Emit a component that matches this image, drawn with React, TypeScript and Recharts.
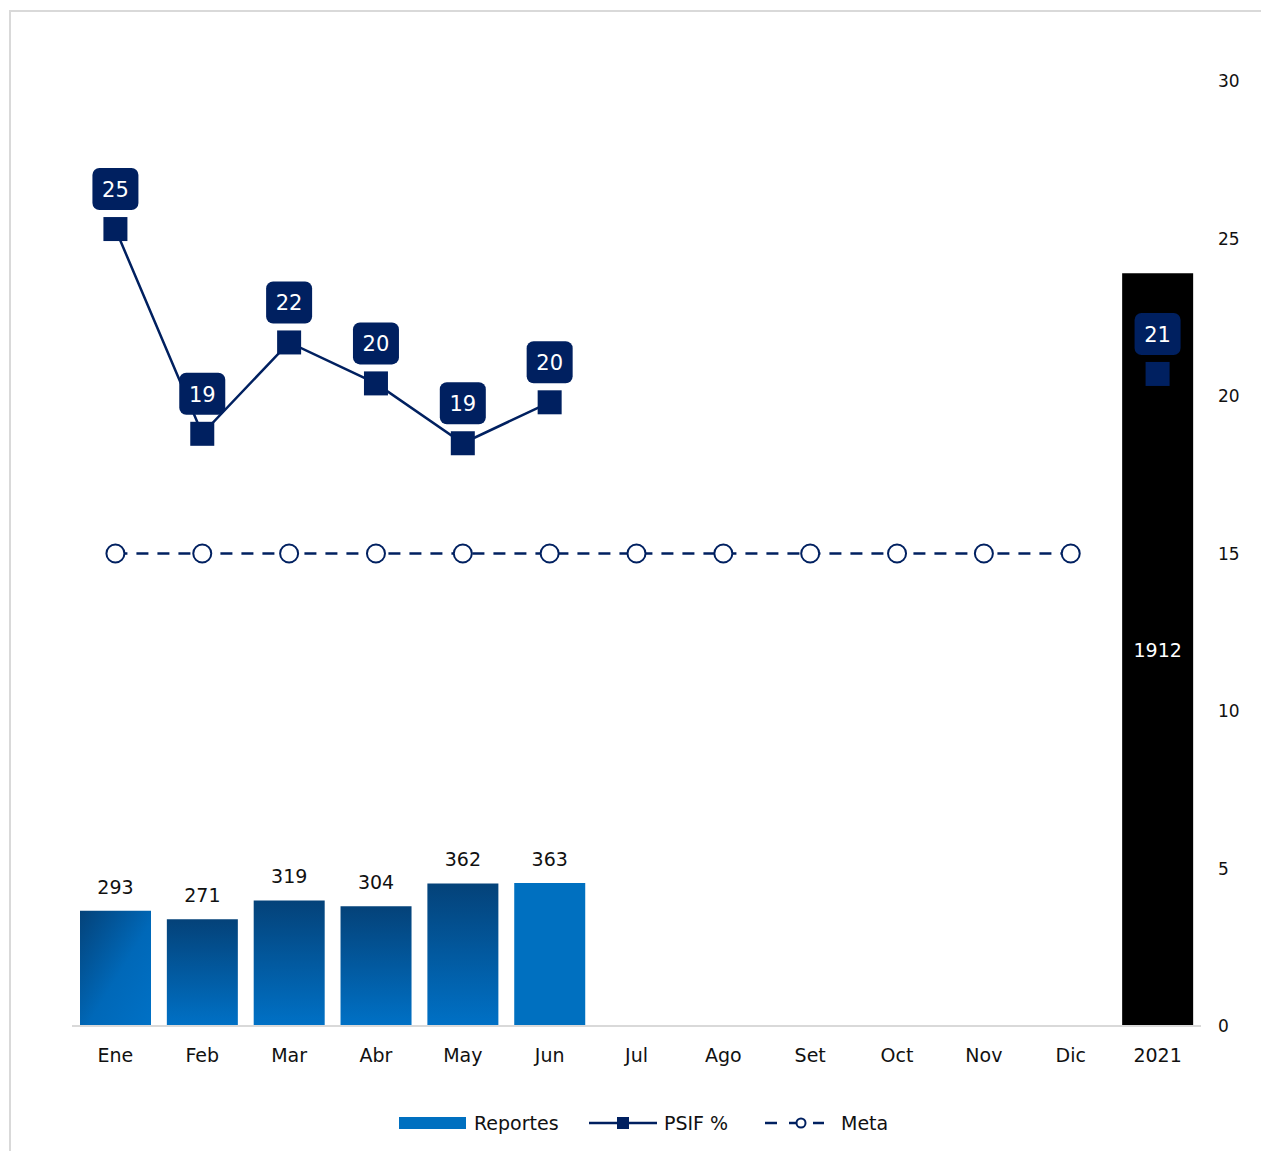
import React from 'react';
import {
  ComposedChart,
  Bar,
  Line,
  XAxis,
  YAxis,
  Cell,
  LabelList,
  Legend
} from 'recharts';

// Chart values
const months = ['Ene', 'Feb', 'Mar', 'Abr', 'May', 'Jun', 'Jul', 'Ago', 'Set', 'Oct', 'Nov', 'Dic', '2021'];
const reportes = [293, 271, 319, 304, 362, 363, null, null, null, null, null, null, 1912];
const psif = [25.3, 18.8, 21.7, 20.4, 18.5, 19.8, null, null, null, null, null, null, 20.7];
const meta = [15, 15, 15, 15, 15, 15, 15, 15, 15, 15, 15, 15, null];
const rightTicks = [0, 5, 10, 15, 20, 25, 30];

const NAVY = '#002060';
const FONT = '"DejaVu Sans", Verdana, sans-serif';
const yearTotal = reportes[reportes.length - 1];

const data = months.map((m, i) => ({
  month: m,
  reportes: reportes[i],
  psif: psif[i],
  meta: meta[i]
}));

const barFills = [
  'url(#gradDiag)',
  'url(#gradVert)',
  'url(#gradVert)',
  'url(#gradVert)',
  'url(#gradVert)',
  '#0070C0',
  '#0070C0', '#0070C0', '#0070C0', '#0070C0', '#0070C0', '#0070C0',
  '#000000'
];

// Square marker for PSIF %
const SquareDot = (props: any) => {
  const { cx, cy, value } = props;
  if (value === null || value === undefined || cx == null || cy == null) return null;
  return <rect x={cx - 12} y={cy - 12} width={24} height={24} fill={NAVY} />;
};

// Hollow circle marker for Meta
const CircleDot = (props: any) => {
  const { cx, cy, value } = props;
  if (value === null || value === undefined || cx == null || cy == null) return null;
  return <circle cx={cx} cy={cy} r={9} fill="#ffffff" stroke={NAVY} strokeWidth={2} />;
};

// Navy rounded box with the rounded value above each PSIF point
const PsifLabel = (props: any) => {
  const { x, y, value } = props;
  if (value === null || value === undefined) return null;
  return (
    <g>
      <rect x={x - 23} y={y - 61} width={46} height={42} rx={7} fill={NAVY} />
      <text
        x={x}
        y={y - 39}
        fill="#ffffff"
        fontSize={21}
        fontFamily={FONT}
        textAnchor="middle"
        dominantBaseline="central"
      >
        {Math.round(value)}
      </text>
    </g>
  );
};

// Values above the monthly bars, inside the yearly bar
const BarLabel = (props: any) => {
  const { x, y, width, height, value } = props;
  if (value === null || value === undefined) return null;
  if (value === yearTotal) {
    return (
      <text
        x={x + width / 2}
        y={y + height / 2}
        fill="#ffffff"
        fontSize={19}
        fontFamily={FONT}
        textAnchor="middle"
        dominantBaseline="central"
      >
        {value}
      </text>
    );
  }
  return (
    <text
      x={x + width / 2}
      y={y - 24}
      fill="#111111"
      fontSize={19}
      fontFamily={FONT}
      textAnchor="middle"
      dominantBaseline="central"
    >
      {value}
    </text>
  );
};

const CustomLegend = () => (
  <svg width={1261} height={40} style={{ display: 'block' }}>
    <g fontFamily={FONT} fontSize={19} fill="#111111">
      <rect x={399} y={14} width={67} height={12} fill="#0070C0" />
      <text x={474} y={20} dominantBaseline="central">Reportes</text>

      <line x1={589} y1={20} x2={657} y2={20} stroke={NAVY} strokeWidth={2.5} />
      <rect x={617} y={14} width={12} height={12} fill={NAVY} />
      <text x={664} y={20} dominantBaseline="central">PSIF %</text>

      <line x1={765} y1={20} x2={777} y2={20} stroke={NAVY} strokeWidth={2.5} />
      <line x1={789} y1={20} x2={796} y2={20} stroke={NAVY} strokeWidth={2.5} />
      <circle cx={801} cy={20} r={4.5} fill="#ffffff" stroke={NAVY} strokeWidth={2} />
      <line x1={806} y1={20} x2={824} y2={20} stroke={NAVY} strokeWidth={2.5} strokeDasharray="0 7 12" />
      <text x={841} y={20} dominantBaseline="central">Meta</text>
    </g>
  </svg>
);

const App: React.FC = () => {
  return (
    <div
      style={{
        position: 'absolute',
        left: 0,
        top: 0,
        width: 1261,
        height: 1151,
        overflow: 'hidden',
        background: '#ffffff',
        fontFamily: FONT
      }}
    >
      {/* light frame around the chart area */}
      <div
        style={{
          position: 'absolute',
          left: 9,
          top: 10,
          width: 1300,
          height: 1200,
          borderLeft: '2px solid #d9d9d9',
          borderTop: '2px solid #d9d9d9'
        }}
      />
      <div style={{ position: 'absolute', left: 0, top: 0 }}>
        <ComposedChart
          width={1261}
          height={1151}
          data={data}
          margin={{ top: 81, right: 0, left: 72, bottom: 35 }}
        >
          <defs>
            <linearGradient id="gradVert" x1="0" y1="0" x2="0" y2="1">
              <stop offset="0%" stopColor="#044279" />
              <stop offset="100%" stopColor="#0071C6" />
            </linearGradient>
            <linearGradient id="gradDiag" x1="0" y1="0" x2="1" y2="1">
              <stop offset="0%" stopColor="#044279" />
              <stop offset="55%" stopColor="#0068B8" />
              <stop offset="100%" stopColor="#0071C6" />
            </linearGradient>
          </defs>

          <XAxis
            dataKey="month"
            axisLine={{ stroke: '#d9d9d9', strokeWidth: 2 }}
            tickLine={false}
            tickSize={6}
            tickMargin={17}
            tick={{ fontSize: 19, fill: '#111111', fontFamily: FONT }}
            interval={0}
            height={50}
          />

          {/* hidden axis for the bar counts */}
          <YAxis yAxisId="left" domain={[0, 2400]} hide />

          {/* visible percentage axis on the right */}
          <YAxis
            yAxisId="right"
            orientation="right"
            domain={[0, 30]}
            ticks={rightTicks}
            axisLine={false}
            tickLine={false}
            tickSize={6}
            tickMargin={11}
            width={60}
            tick={{ fontSize: 17, fill: '#111111', fontFamily: FONT }}
          />

          <Legend
            content={<CustomLegend />}
            wrapperStyle={{ position: 'absolute', top: 1103, left: 0, width: 1261, height: 40 }}
          />

          <Bar
            yAxisId="left"
            dataKey="reportes"
            name="Reportes"
            barSize={71}
            isAnimationActive={false}
          >
            {data.map((d, i) => (
              <Cell key={d.month} fill={barFills[i]} />
            ))}
            <LabelList dataKey="reportes" content={<BarLabel />} />
          </Bar>

          <Line
            yAxisId="right"
            dataKey="meta"
            name="Meta"
            stroke={NAVY}
            strokeWidth={2.5}
            strokeDasharray="12 9"
            dot={<CircleDot />}
            activeDot={false}
            isAnimationActive={false}
          />

          <Line
            yAxisId="right"
            dataKey="psif"
            name="PSIF %"
            stroke={NAVY}
            strokeWidth={2.5}
            dot={<SquareDot />}
            activeDot={false}
            label={<PsifLabel />}
            isAnimationActive={false}
          />
        </ComposedChart>
      </div>
    </div>
  );
};

export default App;
